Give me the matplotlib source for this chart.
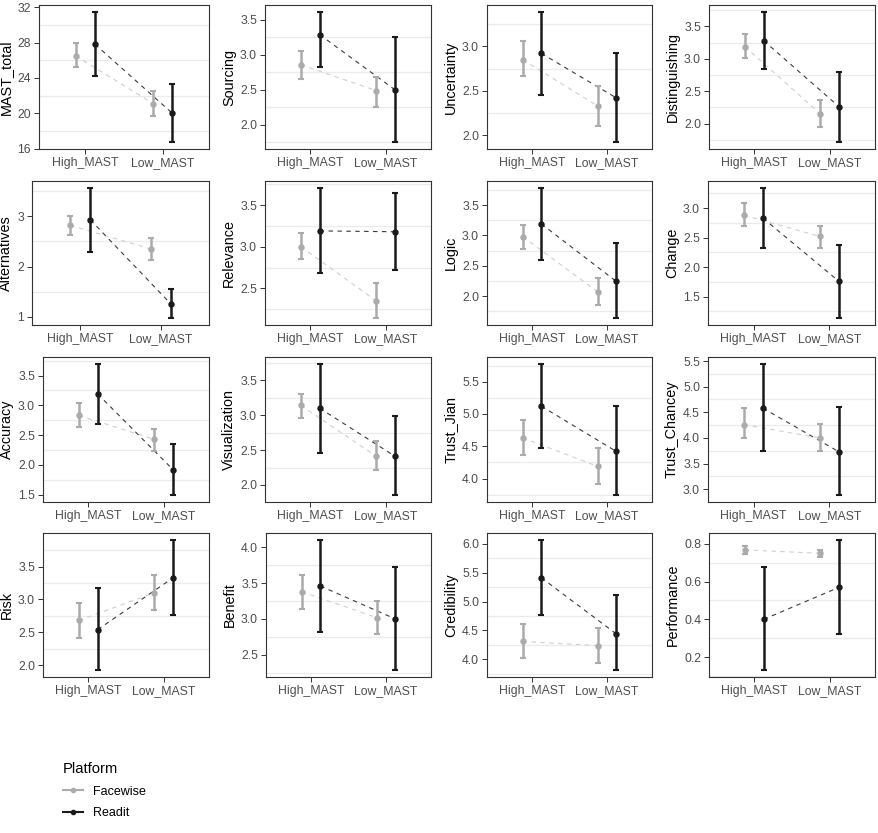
import matplotlib
matplotlib.use("Agg")
import matplotlib.pyplot as plt
from matplotlib.lines import Line2D
import numpy as np

plt.rcParams['font.family'] = ['Liberation Sans', 'DejaVu Sans']

# variables, in reading order (4 x 4 grid)
metrics = ["MAST_total", "Sourcing", "Uncertainty", "Distinguishing",
           "Alternatives", "Relevance", "Logic", "Change",
           "Accuracy", "Visualization", "Trust_Jian", "Trust_Chancey",
           "Risk", "Benefit", "Credibility", "Performance"]
groups = ["High_MAST", "Low_MAST"]

# Facewise: mean, lower, upper for (High_MAST, Low_MAST)
fw_mean = [[26.5, 21.1], [2.86, 2.49], [2.85, 2.33], [3.19, 2.15],
           [2.82, 2.35], [3.00, 2.35], [2.98, 2.07], [2.88, 2.52],
           [2.83, 2.43], [3.14, 2.41], [4.63, 4.19], [4.26, 4.00],
           [2.68, 3.10], [3.38, 3.02], [4.31, 4.24], [0.768, 0.750]]
fw_lo = [[25.2, 19.7], [2.65, 2.26], [2.67, 2.10], [3.01, 1.95],
         [2.62, 2.13], [2.85, 2.14], [2.77, 1.85], [2.69, 2.33],
         [2.63, 2.24], [2.96, 2.22], [4.36, 3.91], [3.99, 3.74],
         [2.42, 2.84], [3.14, 2.79], [4.02, 3.94], [0.747, 0.733]]
fw_hi = [[27.9, 22.5], [3.06, 2.69], [3.06, 2.55], [3.38, 2.37],
         [3.01, 2.57], [3.17, 2.56], [3.18, 2.30], [3.08, 2.70],
         [3.04, 2.61], [3.31, 2.63], [4.90, 4.47], [4.59, 4.28],
         [2.94, 3.37], [3.62, 3.25], [4.62, 4.55], [0.790, 0.770]]

# Readit
rd_mean = [[27.8, 20.0], [3.29, 2.50], [2.92, 2.42], [3.28, 2.26],
           [2.93, 1.26], [3.19, 3.18], [3.19, 2.24], [2.83, 1.76],
           [3.19, 1.92], [3.10, 2.41], [5.12, 4.42], [4.58, 3.73],
           [2.54, 3.33], [3.46, 3.00], [5.41, 4.44], [0.400, 0.570]]
rd_lo = [[24.25, 16.7], [2.83, 1.75], [2.45, 1.92], [2.84, 1.71],
         [2.29, 0.97], [2.69, 2.72], [2.60, 1.63], [2.33, 1.13],
         [2.69, 1.49], [2.46, 1.85], [4.48, 3.74], [3.74, 2.88],
         [1.92, 2.77], [2.82, 2.28], [4.76, 3.81], [0.129, 0.324]]
rd_hi = [[31.5, 23.3], [3.62, 3.26], [3.39, 2.93], [3.73, 2.80],
         [3.57, 1.56], [3.71, 3.64], [3.79, 2.88], [3.35, 2.37],
         [3.70, 2.35], [3.74, 2.99], [5.78, 5.12], [5.45, 4.60],
         [3.18, 3.91], [4.11, 3.72], [6.07, 5.12], [0.680, 0.823]]

# y tick labels per panel
yticks = [[16, 20, 24, 28, 32], [2.0, 2.5, 3.0, 3.5], [2.0, 2.5, 3.0],
          [2.0, 2.5, 3.0, 3.5], [1, 2, 3], [2.5, 3.0, 3.5],
          [2.0, 2.5, 3.0, 3.5], [1.5, 2.0, 2.5, 3.0],
          [1.5, 2.0, 2.5, 3.0, 3.5], [2.0, 2.5, 3.0, 3.5],
          [4.0, 4.5, 5.0, 5.5], [3.0, 3.5, 4.0, 4.5, 5.0, 5.5],
          [2.0, 2.5, 3.0, 3.5], [2.5, 3.0, 3.5, 4.0],
          [4.0, 4.5, 5.0, 5.5, 6.0], [0.2, 0.4, 0.6, 0.8]]

# panel boxes in pixels (left, right) / (top, bottom)
W, H = 879, 833
lefts = [39, 265, 487, 709, 32, 265, 487, 708,
         43, 265, 487, 708, 43, 266, 487, 709]
rights = [209, 431, 652, 875]
rows = [(5, 149), (181, 325), (357, 502), (533, 677)]

FW_COL = "#ABABAB"
FW_LINE = "#CFCFCF"
RD_COL = "#1A1A1A"
RD_LINE = "#3A3A3A"
dodge = 0.125

fig = plt.figure(figsize=(W / 100, H / 100), dpi=100)

for i, name in enumerate(metrics):
    r, c = divmod(i, 4)
    top, bot = rows[r]
    l, rgt = lefts[i], rights[c]
    ax = fig.add_axes([l / W, 1 - bot / H, (rgt - l) / W, (bot - top) / H])

    x = np.arange(1, 3)
    for mean, lo, hi, off, col, lcol in [
            (fw_mean[i], fw_lo[i], fw_hi[i], -dodge, FW_COL, FW_LINE),
            (rd_mean[i], rd_lo[i], rd_hi[i], dodge, RD_COL, RD_LINE)]:
        mean = np.array(mean)
        err = [mean - np.array(lo), np.array(hi) - mean]
        ax.plot(x + off, mean, ls=(0, (4, 4)), lw=0.8, color=lcol, zorder=2)
        ax.errorbar(x + off, mean, yerr=err, fmt='o', ms=3.6, color=col,
                    ecolor=col, elinewidth=1.8, capsize=2.2, capthick=1.5,
                    zorder=3)

    ax.set_xlim(0.4, 2.6)
    ax.margins(y=0.05)
    ax.set_xticks(x)
    ax.set_xticklabels(groups)
    tk = yticks[i]
    ax.set_yticks(tk)
    if all(float(t).is_integer() for t in tk):
        ax.set_yticklabels(["%d" % t for t in tk])
    else:
        ax.set_yticklabels(["%.1f" % t for t in tk])
    step = tk[1] - tk[0]
    y0, y1 = ax.get_ylim()
    minor = [t - step / 2 for t in tk] + [tk[-1] + step / 2]
    minor = [m for m in minor if y0 < m < y1]
    ax.set_yticks(minor, minor=True)
    ax.set_ylim(y0, y1)
    ax.grid(True, which='minor', axis='y', color='#EBEBEB', lw=0.9, zorder=0)
    ax.set_axisbelow(True)

    ax.tick_params(axis='both', which='major', length=3.5, width=0.7,
                   color='#333333', labelcolor='#4D4D4D', labelsize=8.8, pad=2.2)
    ax.tick_params(axis='y', which='minor', length=0)
    for s in ax.spines.values():
        s.set_color('#333333')
        s.set_linewidth(0.8)
    ax.set_ylabel(name, fontsize=10.4, color='black', labelpad=3)

handles = [Line2D([], [], color=FW_COL, lw=1.5, marker='o', ms=3),
           Line2D([], [], color=RD_COL, lw=1.5, marker='o', ms=3)]
leg = fig.legend(handles, ["Facewise", "Readit"], title="Platform",
                 loc='upper left', bbox_to_anchor=(52 / W, 1 - 751 / H),
                 frameon=False, fontsize=9, title_fontsize=10.6,
                 handlelength=1.6, handletextpad=0.8, labelspacing=0.75)
leg._legend_box.align = "left"

fig.savefig("out.png", dpi=100)
